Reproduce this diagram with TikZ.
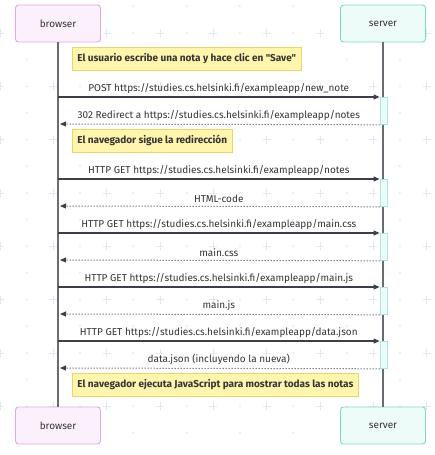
\documentclass[tikz,border=0pt]{standalone}
\usepackage{fontspec}
\setmainfont{Fira Sans}[Ligatures=TeXOff]
\usepackage{tikz}
\usetikzlibrary{arrows.meta, positioning}

\definecolor{txt}{HTML}{333333}
\definecolor{linec}{HTML}{3B3F48}
\definecolor{lifec}{HTML}{6B6B73}
\definecolor{gridc}{HTML}{DFE9EF}
\definecolor{brfill}{HTML}{FDF0FD}
\definecolor{brline}{HTML}{E3A6E6}
\definecolor{svfill}{HTML}{EEFCF9}
\definecolor{svline}{HTML}{7ED8C9}
\definecolor{actline}{HTML}{A4E8DE}
\definecolor{notefill}{HTML}{FFF5AD}
\definecolor{noteline}{HTML}{E9D46E}

\begin{document}
\begin{tikzpicture}[x=1pt, y=-1pt, font=\fontsize{10}{12}\selectfont\color{txt},
    actor/.style={draw, rounded corners=3pt, line width=0.9pt, minimum width=85pt, minimum height=37pt},
    brbox/.style={actor, fill=brfill, draw=brline},
    svbox/.style={actor, fill=svfill, draw=svline},
    note/.style={draw=noteline, fill=notefill, line width=0.8pt, minimum height=23pt, inner xsep=5pt, anchor=west, font=\fontsize{10}{12}\selectfont\bfseries\color{txt}},
    act/.style={draw=actline, fill=svfill, line width=0.8pt, minimum width=7pt, minimum height=27pt, inner sep=0pt, anchor=north},
    req/.style={draw=linec, line width=1.1pt, -{Triangle[length=6pt, width=5pt]}},
    rep/.style={draw=linec, line width=1pt, dotted, -{Triangle[length=6pt, width=5pt]}, shorten >=2pt},
    msg/.style={midway, above=3pt, inner sep=0pt}]
  \useasboundingbox (0,0) rectangle (435,455);

  % background grid
  \foreach \i in {0,...,8}
    \foreach \j in {0,...,8} {
      \draw[gridc, line width=0.8pt] ({53.33*\i-4},{33+53.33*\j}) -- ++(8,0)
        ({53.33*\i},{29+53.33*\j}) -- ++(0,8);
      \fill[gridc] ({26.67+53.33*\i},{33+53.33*\j}) circle (1pt)
        ({26.67+53.33*\i},{6+53.33*\j}) circle (1pt);
    }

  % participants
  \node[brbox] (bt) at (58,23.5) {browser};
  \node[svbox] (st) at (383,23.5) {server};
  \node[brbox] (bb) at (58,425.5) {browser};
  \node[svbox] (sb) at (383,425.5) {server};

  \draw[lifec, line width=1.3pt] (bt) -- (bb);
  \draw[lifec, line width=1.3pt] (st) -- (sb);

  % message rows on the lifelines
  \foreach \n/\y/\r in {1/97/124, 2/179/206, 3/233/260, 4/287/314, 5/341/368} {
    \coordinate (b\n) at (58,\y);
    \coordinate (r\n) at (58,\r);
    \node[act] (a\n) at (383.5,\y) {};
  }

  % notes
  \node[note] (n1) at (72,58.5) {El usuario escribe una nota y hace clic en "Save"};
  \node[note] (n2) at (72,140.5) {El navegador sigue la redirección};
  \node[note] (n3) at (72,385) {El navegador ejecuta JavaScript para mostrar todas las notas};

  % messages
  \draw[req] (b1) -- (a1.north west) node[msg] {POST https://studies.cs.helsinki.fi/exampleapp/new\_note};
  \draw[rep] (a1.south west) -- (r1) node[msg] {302 Redirect a https://studies.cs.helsinki.fi/exampleapp/notes};
  \draw[req] (b2) -- (a2.north west) node[msg] {HTTP GET https://studies.cs.helsinki.fi/exampleapp/notes};
  \draw[rep] (a2.south west) -- (r2) node[msg] {HTML-code};
  \draw[req] (b3) -- (a3.north west) node[msg] {HTTP GET https://studies.cs.helsinki.fi/exampleapp/main.css};
  \draw[rep] (a3.south west) -- (r3) node[msg] {main.css};
  \draw[req] (b4) -- (a4.north west) node[msg] {HTTP GET https://studies.cs.helsinki.fi/exampleapp/main.js};
  \draw[rep] (a4.south west) -- (r4) node[msg] {main.js};
  \draw[req] (b5) -- (a5.north west) node[msg] {HTTP GET https://studies.cs.helsinki.fi/exampleapp/data.json};
  \draw[rep] (a5.south west) -- (r5) node[msg] {data.json (incluyendo la nueva)};
\end{tikzpicture}
\end{document}
